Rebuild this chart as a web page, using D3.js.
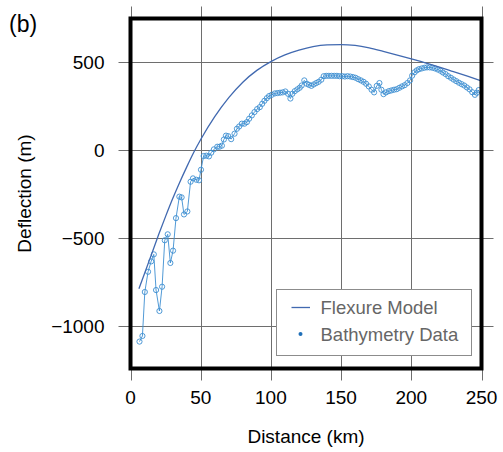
<!DOCTYPE html>
<html>
<head>
<meta charset="utf-8">
<script src="https://cdn.jsdelivr.net/npm/d3@7"></script>
<style>
  body { margin: 0; background: #fff; }
  svg { font-family: "Liberation Sans", Arial, Helvetica, sans-serif; }
</style>
</head>
<body>
<div id="chart"></div>
<script>
// bathymetry profile (km, m)
const distKm = [6.4, 8.5, 10.2, 12.5, 14.7, 16.6, 18.2, 20.6, 22.5, 24.4, 26.5, 28.4, 30.3, 32.4, 34.8, 36.4,
  38.1, 40.5, 42.8, 44.5, 46.9, 48.8, 50.2, 52.1, 54.0, 55.9, 57.5, 59.4, 61.8, 63.4, 65.1, 66.5, 68.0, 69.6,
  71.7, 74.1, 75.8, 77.4, 79.3, 81.2, 82.9, 84.5, 86.4, 88.3, 90.2, 92.1, 93.8, 95.4, 97.1, 98.7, 100.6, 102.8,
  104.6, 106.5, 108.4, 110.3, 112.2, 113.9, 115.3, 117.0, 118.8, 120.5, 121.9, 123.8, 125.5, 127.1, 128.8, 130.5,
  132.3, 134.0, 135.9, 137.6, 139.4, 141.3, 143.2, 145.1, 147.0, 148.9, 150.8, 152.7, 154.6, 156.5, 158.4, 160.3,
  162.2, 164.1, 166.0, 167.8, 169.7, 171.7, 173.5, 175.4, 177.3, 178.7, 180.2, 182.0, 184.0, 185.8, 187.7, 189.6,
  191.5, 193.4, 195.3, 197.2, 199.1, 200.6, 202.3, 203.9, 205.5, 207.4, 209.3, 211.2, 213.1, 215.0, 216.9, 218.8,
  220.7, 222.5, 224.4, 226.3, 228.2, 230.1, 232.0, 233.9, 235.8, 237.7, 239.6, 241.5, 243.4, 245.3, 246.8, 248.0];
const bathyM = [-1087, -1055, -805, -690, -631, -591, -794, -913, -775, -511, -477, -640, -570, -385, -263, -267,
  -364, -347, -178, -159, -167, -170, -110, -32, -30, -34, -13, 6, 21, 21, 27, 62, 84, 81,
  64, 95, 123, 136, 152, 152, 161, 180, 199, 218, 235, 246, 265, 282, 297, 309, 316, 324,
  326, 328, 330, 335, 322, 295, 322, 337, 347, 356, 369, 398, 379, 373, 367, 375,
  383, 390, 402, 422, 424, 424, 424, 424, 424, 422, 422, 420, 422, 420, 417, 413,
  405, 398, 390, 379, 364, 345, 330, 367, 383, 345, 320, 330, 337, 341, 345, 348,
  356, 364, 371, 383, 398, 425, 444, 455, 462, 466, 470, 472, 472, 470, 466, 460,
  453, 443, 434, 422, 413, 403, 394, 385, 377, 369, 358, 347, 331, 316, 328, 343];

// flexure model curve
const modelKm = [6, 10, 15, 20, 25, 30, 35, 40, 45, 50, 60, 70, 80, 90, 100, 110, 120, 130, 140, 150,
  160, 170, 180, 190, 200, 210, 220, 230, 240, 250];
const modelM = [-786, -700, -590, -480, -375, -275, -182, -95, -12, 62, 192, 300, 388, 455, 505, 543, 570, 590, 600, 602,
  597, 583, 563, 542, 520, 498, 474, 448, 422, 395];

const xTicks = [0, 50, 100, 150, 200, 250];
const yTicks = [-1000, -500, 0, 500];
const legendLabels = ["Flexure Model", "Bathymetry Data"];

const W = 503, H = 452;
const pLeft = 130.5, pRight = 481.5, pTop = 18.5, pBottom = 368.5;
const modelColor = "#4169b0", dataColor = "#3d8fd1";

const svg = d3.select("#chart").append("svg")
  .attr("width", W).attr("height", H);

const x = d3.scaleLinear().domain([0, 250]).range([pLeft, pRight]);
const y = d3.scaleLinear().domain([-1240, 750]).range([pBottom, pTop]);

// grid lines, stick out past the frame like ticks
const grid = svg.append("g").attr("stroke", "#6e6e6e").attr("stroke-width", 1);
grid.selectAll(".gx").data(xTicks).enter().append("line")
  .attr("x1", d => Math.round(x(d)) + 0.5).attr("x2", d => Math.round(x(d)) + 0.5)
  .attr("y1", pTop - 12).attr("y2", pBottom + 12);
grid.selectAll(".gy").data(yTicks).enter().append("line")
  .attr("y1", d => Math.round(y(d)) + 0.5).attr("y2", d => Math.round(y(d)) + 0.5)
  .attr("x1", pLeft - 12).attr("x2", pRight + 12);

// tick labels
const fmt = d => d < 0 ? "\u2212" + Math.abs(d) : String(d);
svg.append("g").selectAll("text").data(xTicks).enter().append("text")
  .attr("x", d => x(d)).attr("y", pBottom + 35)
  .attr("text-anchor", "middle").style("font-size", "19px").attr("fill", "#000")
  .text(fmt);
svg.append("g").selectAll("text").data(yTicks).enter().append("text")
  .attr("x", pLeft - 26).attr("y", d => y(d) + 7)
  .attr("text-anchor", "end").style("font-size", "19px").attr("fill", "#000")
  .text(fmt);

// bathymetry
const pts = distKm.map((d, i) => ({ x: d, y: bathyM[i] }));
svg.append("path").datum(pts)
  .attr("fill", "none").attr("stroke", dataColor).attr("stroke-width", 0.9)
  .attr("d", d3.line().x(d => x(d.x)).y(d => y(d.y)));
svg.append("g").selectAll("circle").data(pts).enter().append("circle")
  .attr("cx", d => x(d.x)).attr("cy", d => y(d.y)).attr("r", 2.6)
  .attr("fill", "none").attr("stroke", dataColor).attr("stroke-width", 0.9);

// model
svg.append("path").datum(modelKm.map((d, i) => ({ x: d, y: modelM[i] })))
  .attr("fill", "none").attr("stroke", modelColor).attr("stroke-width", 1.3)
  .attr("d", d3.line().curve(d3.curveMonotoneX).x(d => x(d.x)).y(d => y(d.y)));

// legend
const lg = svg.append("g");
lg.append("rect").attr("x", 276.5).attr("y", 289.5).attr("width", 195).attr("height", 66)
  .attr("fill", "#fff").attr("stroke", "#8c8c8c").attr("stroke-width", 1);
lg.append("line").attr("x1", 291.5).attr("x2", 310).attr("y1", 307.5).attr("y2", 307.5)
  .attr("stroke", modelColor).attr("stroke-width", 1.3);
lg.append("circle").attr("cx", 300.5).attr("cy", 334).attr("r", 2).attr("fill", "#1f6fb8");
lg.selectAll("text").data(legendLabels).enter().append("text")
  .attr("x", 320.5).attr("y", (d, i) => 314 + i * 26.5)
  .style("font-size", "18.5px").attr("fill", "#666").text(d => d);

// frame
svg.append("rect").attr("x", pLeft).attr("y", pTop)
  .attr("width", pRight - pLeft).attr("height", pBottom - pTop)
  .attr("fill", "none").attr("stroke", "#000").attr("stroke-width", 4);

// axis titles
svg.append("text").attr("x", (pLeft + pRight) / 2).attr("y", 443)
  .attr("text-anchor", "middle").style("font-size", "19px").text("Distance (km)");
svg.append("text").attr("transform", `translate(31,${(pTop + pBottom) / 2}) rotate(-90)`)
  .attr("text-anchor", "middle").style("font-size", "19px").text("Deflection (m)");
svg.append("text").attr("x", 9).attr("y", 32).style("font-size", "23px").text("(b)");
</script>
</body>
</html>
